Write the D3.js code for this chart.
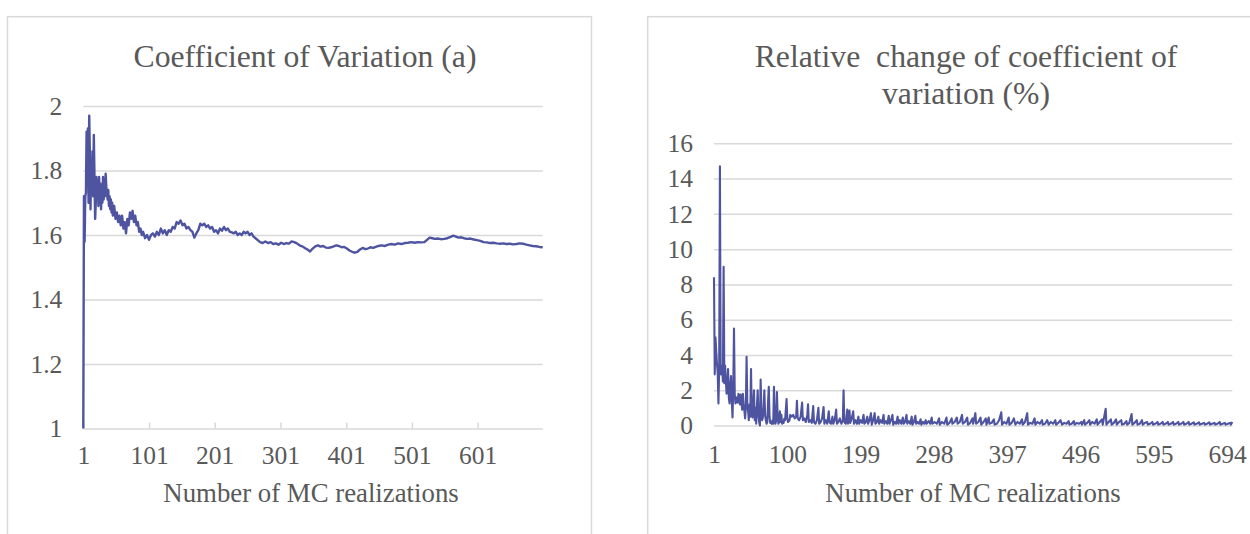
<!DOCTYPE html>
<html>
<head>
<meta charset="utf-8">
<script src="https://cdnjs.cloudflare.com/ajax/libs/d3/7.8.5/d3.min.js"></script>
<style>
	body { margin:0; background:#fff; }
</style>
</head>
<body>
<svg id="chart" width="1250" height="534"></svg>
<script>

// left chart: coefficient of variation vs number of MC realizations
let cvRuns = [1,2,3,4,5,6,7,8,9,10,11,12,13,14,15,16,17,18,19,20,21,22,23,24,25,26,27,28,29,30,
	31,32,33,34,35,36,37,38,39,40,41,42,43,44,45,46,48,50,52,54,56,58,60,62,64,66,68,70,72,74,76,78,80,82,84,86,88,90,92,95,98,
	101,104,107,110,113,116,119,122,125,128,131,134,137,140,143,146,149,152,155,158,161,164,167,170,173,176,179,182,185,188,191,194,197,
	200,203,206,209,212,215,218,221,224,227,230,233,236,239,242,245,248,251,254,257,260,263,266,270,274,278,282,286,290,294,298,
	302,306,310,314,318,322,326,330,334,338,342,346,350,354,358,362,366,370,374,378,382,386,390,394,398,
	402,406,410,414,418,422,426,430,434,438,442,446,450,455,460,465,470,475,480,485,490,495,500,
	505,510,515,520,524,528,532,536,540,545,550,555,560,564,568,572,576,580,585,590,595,600,
	605,610,615,620,625,630,635,640,645,650,655,660,665,670,675,680,685,690,695,700]
let cvValues = [1.00,1.72,1.58,1.72,1.73,1.92,1.80,1.93,1.70,1.97,1.85,1.68,1.82,1.75,1.86,1.72,1.91,1.78,1.65,1.70,1.78,1.72,1.77,1.69,1.78,1.72,1.76,1.68,1.75,1.70,
	1.78,1.71,1.77,1.72,1.79,1.75,1.73,1.71,1.74,1.69,1.72,1.68,1.71,1.67,1.70,1.66,1.69,1.65,1.67,1.64,1.66,1.63,1.66,1.62,1.64,1.605,1.65,1.63,1.67,1.65,1.675,1.64,1.66,1.63,1.64,1.61,1.62,1.60,1.61,1.59,1.60,
	1.585,1.60,1.605,1.595,1.61,1.60,1.62,1.605,1.615,1.60,1.615,1.61,1.625,1.62,1.64,1.635,1.645,1.63,1.635,1.62,1.625,1.615,1.61,1.592,1.605,1.615,1.635,1.63,1.635,1.625,1.63,1.62,1.625,
	1.61,1.615,1.605,1.62,1.613,1.625,1.615,1.62,1.61,1.608,1.605,1.61,1.60,1.605,1.60,1.61,1.605,1.61,1.60,1.605,1.595,1.59,1.585,1.578,1.575,1.58,1.575,1.578,1.572,1.574,1.57,
	1.576,1.572,1.575,1.573,1.58,1.578,1.574,1.568,1.565,1.56,1.555,1.549,1.558,1.565,1.568,1.564,1.566,1.561,1.56,1.562,1.565,1.568,1.566,1.562,1.563,
	1.558,1.552,1.548,1.545,1.548,1.555,1.56,1.556,1.558,1.562,1.56,1.563,1.566,1.568,1.566,1.57,1.572,1.57,1.574,1.572,1.575,1.576,1.578,
	1.576,1.578,1.577,1.578,1.585,1.592,1.59,1.588,1.589,1.587,1.588,1.59,1.594,1.598,1.595,1.592,1.593,1.59,1.588,1.589,1.586,1.584,
	1.582,1.578,1.577,1.575,1.576,1.574,1.573,1.574,1.572,1.573,1.571,1.572,1.574,1.573,1.57,1.568,1.566,1.565,1.563,1.562]
let cvXTicks = [1,101,201,301,401,501,601]
let cvYTicks = [1,1.2,1.4,1.6,1.8,2]

// right chart: relative change of the coefficient of variation (%)
let rcRuns = [1,2,3,4,5,6,7,8,9,10,11,12,13,14,15,16,17,18,19,20,21,22,23,24,25,26,27,28,29,30,
	31,32,33,34,35,36,37,38,39,40,41,42,43,44,45,46,47,48,49,50,51,52,53,54,55,56,57,58,59,60,
	61,62,63,64,65,66,67,68,69,70,71,72,73,74,75,76,77,78,79,80,81,82,83,84,85,86,87,88,89,90,
	91,92,93,94,95,96,97,99,100,101,103,104,106,108,110,112,113,114,116,118,120,121,123,125,127,128,129,131,133,135,136,138,140,142,143,145,147,149,150,
	152,154,156,157,159,161,162,164,166,167,169,171,173,175,176,177,179,181,182,184,185,187,189,190,192,194,196,197,199,
	201,203,204,206,208,209,211,213,214,216,218,219,221,223,224,226,228,230,231,233,235,237,238,240,242,243,245,247,249,250,
	252,254,256,257,259,261,262,264,266,268,269,271,273,274,276,278,280,281,283,285,287,288,291,293,295,296,299,
	302,305,306,309,312,315,316,319,322,323,326,329,330,333,336,337,340,343,344,347,350,351,354,355,358,361,362,365,368,369,372,373,376,379,380,383,386,389,390,393,396,399,
	400,403,406,408,411,414,417,418,421,424,425,428,431,434,435,438,441,444,445,448,451,453,456,459,462,463,466,469,471,474,477,480,481,484,487,488,491,494,497,498,
	501,502,505,508,509,512,515,518,519,522,525,526,530,531,534,537,538,541,544,545,548,551,552,555,558,559,562,565,566,569,572,573,576,579,580,583,586,587,590,593,594,597,
	600,601,604,607,608,611,614,615,618,621,622,625,628,629,632,635,636,639,642,643,646,649,650,653,656,657,660,663,664,667,670,671,674,677,678,681,684,685,688,691,692,695,698,699,701]
let rcValues = [8.4,2.9,5.0,4.2,3.5,3.0,1.25,3.2,14.7,2.9,3.4,3.3,2.5,9.0,2.4,3.4,2.6,1.8,2.2,3.2,1.6,1.25,2.3,2.8,1.4,0.45,2.0,5.5,1.8,1.25,
	1.5,1.6,1.3,1.8,1.7,1.2,1.75,1.4,0.9,1.8,1.2,0.85,0.4,1.0,3.9,1.2,0.85,0.3,1.2,0.5,3.2,0.6,0.45,1.2,2.0,0.3,1.0,0.1,1.1,2.0,
	0.6,0.2,0,2.6,0.9,0.3,0.45,1.0,2.0,0.6,0.3,0.1,0.2,1.3,2.2,0.5,0.15,0.2,0.1,0.3,0.1,2.2,0.4,0.1,0.3,1.9,0.5,0.1,0.2,0.8,
	0.2,0.6,0.1,0.2,0.15,0.4,0.3,1.5,0.4,0.2,0.3,0.6,0.5,0.6,0.4,0.5,1.4,0.4,0.3,0.5,1.3,0.3,0.4,0.2,0.6,1.2,0.2,0.3,0.15,1.1,0.2,0.1,0.3,1.0,0.1,0.2,0.4,1.05,0.1,
	0.3,0.1,0.8,0.2,0.1,0.5,0.1,0.3,0.9,0.1,0.2,0.4,0.1,0.3,2.0,0.2,0.1,0.9,0.1,0.85,0.15,0.4,0.8,0.1,0.3,0.1,0.5,0.1,0.3,
	0.15,0.6,0.1,0.2,0.5,0.1,0.3,0.7,0.05,0.3,0.7,0.1,0.2,0.5,0.1,0.3,0.15,0.6,0.1,0.25,0.1,0.55,0.1,0.3,0.6,0.05,0.2,0.1,0.5,0.1,
	0.3,0.1,0.45,0.1,0.2,0.6,0.1,0.25,0.1,0.5,0.05,0.2,0.55,0.1,0.2,0.1,0.35,0.05,0.2,0.1,0.3,0.1,0.25,0.1,0.45,0.1,0.2,
	0.1,0.4,0.05,0.2,0.1,0.45,0.05,0.15,0.4,0.1,0.2,0.45,0.1,0.2,0.6,0.1,0.2,0.45,0.05,0.15,0.4,0.1,0.7,0.1,0.2,0.45,0.05,0.2,0.4,0.05,0.45,0.1,0.15,0.35,0.05,0.1,0.3,0.75,0.05,0.2,0.1,0.45,
	0.05,0.15,0.4,0.05,0.2,0.1,0.35,0.05,0.2,0.7,0.05,0.15,0.1,0.4,0.05,0.2,0.1,0.3,0.05,0.1,0.3,0.05,0.2,0.1,0.3,0.05,0.15,0.3,0.05,0.15,0.1,0.25,0.05,0.1,0.25,0.05,0.15,0.1,0.2,0.05,
	0.3,0.05,0.15,0.3,0.05,0.2,0.1,0.35,0.05,0.2,0.35,0.05,0.95,0.05,0.2,0.35,0.05,0.15,0.35,0.05,0.2,0.3,0.05,0.1,0.25,0.05,0.15,0.65,0.05,0.15,0.3,0.05,0.1,0.3,0.05,0.15,0.2,0.05,0.1,0.2,0.05,0.1,
	0.2,0.05,0.1,0.2,0.05,0.1,0.2,0.05,0.1,0.2,0.05,0.1,0.2,0.05,0.1,0.2,0.05,0.1,0.2,0.05,0.1,0.18,0.05,0.1,0.18,0.05,0.1,0.15,0.05,0.1,0.18,0.05,0.1,0.15,0.05,0.1,0.2,0.05,0.1,0.15,0.05,0.1,0.15,0.05,0.2]
let rcXTicks = [1,100,199,298,397,496,595,694]
let rcYTicks = [0,2,4,6,8,10,12,14,16]

let font = 'Liberation Serif, Times New Roman, DejaVu Serif, serif'
let grey = '#595959'

let svg = d3.select('#chart')

function lineChart(o) {
	let x = d3.scaleLinear().domain(o.xDomain).range([o.left, o.right])
	let y = d3.scaleLinear().domain(o.yDomain).range([o.bottom, o.top])

	// panel frame (runs off the bottom / right like the original)
	svg.append('rect').attr('x', o.frame[0]).attr('y', o.frame[1]).attr('width', o.frame[2]).attr('height', 600)
		.attr('fill', 'none').attr('stroke', '#d9d9d9').attr('stroke-width', 1.5)

	let yAxis = d3.axisLeft(y).tickValues(o.yTicks).tickSize(-(o.right - o.left)).tickPadding(21).tickFormat(d => d)
	let gy = svg.append('g').attr('transform', `translate(${o.left},0)`).call(yAxis)
	gy.select('.domain').remove()
	gy.selectAll('line').attr('stroke', '#d9d9d9').attr('stroke-width', 1.5)
	gy.attr('font-family', font).attr('font-size', 25.5)
	gy.selectAll('text').attr('fill', grey)

	let xAxis = d3.axisBottom(x).tickValues(o.xTicks).tickSizeInner(-o.tickLen).tickSizeOuter(0).tickPadding(o.tickLen ? 17 : 19)
	let gx = svg.append('g').attr('transform', `translate(0,${o.bottom})`).call(xAxis)
	gx.select('.domain').remove()
	gx.selectAll('line').attr('stroke', '#d9d9d9').attr('stroke-width', 1.5)
	gx.attr('font-family', font).attr('font-size', 25.5)
	gx.selectAll('text').attr('fill', grey)

	let line = d3.line().x(d => x(d[0])).y(d => y(d[1]))
	svg.append('path').datum(d3.zip(o.runs, o.values))
		.attr('d', line).attr('fill', 'none').attr('stroke', '#4e54a0')
		.attr('stroke-width', o.lineWidth).attr('stroke-linejoin', 'round')

	o.title.forEach((t, i) => {
		svg.append('text').attr('x', o.titleX).attr('y', 67 + i * 37).attr('text-anchor', 'middle')
			.attr('font-family', font).attr('fill', grey).style('white-space', 'pre')
			.attr('font-size', 31.7).text(t)
	})
	svg.append('text').attr('x', o.axisTitleX).attr('y', 502).attr('text-anchor', 'middle')
		.attr('font-family', font).attr('fill', grey)
		.attr('font-size', 26.8).text('Number of MC realizations')
}

lineChart({
	runs: cvRuns, values: cvValues, xTicks: cvXTicks, yTicks: cvYTicks,
	xDomain: [1, 700], yDomain: [1, 2],
	left: 83.3, right: 542.7, top: 106, bottom: 428.5,
	frame: [7.5, 16.7, 584], tickLen: 6, lineWidth: 2.4,
	title: ['Coefficient of Variation (a)'], titleX: 305, axisTitleX: 311
})

lineChart({
	runs: rcRuns, values: rcValues, xTicks: rcXTicks, yTicks: rcYTicks,
	xDomain: [1, 701], yDomain: [0, 16],
	left: 714, right: 1232.3, top: 143.3, bottom: 425.5,
	frame: [647.7, 16.7, 700], tickLen: 0, lineWidth: 2.1,
	title: ['Relative  change of coefficient of', 'variation (%)'], titleX: 966, axisTitleX: 973
})

</script>
</body>
</html>
